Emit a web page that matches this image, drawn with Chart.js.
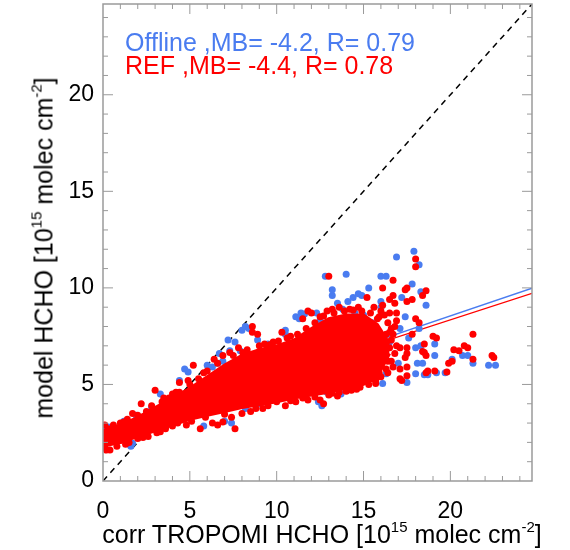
<!DOCTYPE html>
<html lang="en">
<head>
<meta charset="UTF-8">
<title>model HCHO vs corr TROPOMI HCHO</title>
<script src="https://cdn.jsdelivr.net/npm/chart.js"></script>
<style>
    body { margin: 0; background: #fff; }
    #wrap {
        position: relative;
        width: 570px;
        height: 550px;
        font-family: "Liberation Sans", Arial, Helvetica, sans-serif;
    }
    .txt { position: absolute; white-space: nowrap; line-height: 1; color: #000; }
    .txt sup { font-size: 0.6em; line-height: 0; position: relative; top: -0.1em; vertical-align: super; }
</style>
</head>
<body>
<div id="wrap">
    <canvas id="c" width="570" height="550"></canvas>
    <div class="txt" id="stat0" style="left:125px; top:30px; font-size:25px;"></div>
    <div class="txt" id="stat1" style="left:125px; top:53px; font-size:25px;"></div>
    <div class="txt" id="xtitle" style="left:322px; top:522px; font-size:25px; transform:translateX(-50%);">corr TROPOMI HCHO [10<sup>15</sup> molec cm<sup>-2</sup>]</div>
    <div class="txt" id="ytitle" style="left:44px; top:248px; font-size:25px; transform:translate(-50%,-50%) rotate(-90deg);">model HCHO [10<sup>15</sup> molec cm<sup>-2</sup>]</div>
</div>
<script>
    // axes
    const axisMax = 24.7;
    const tickValues = [0, 5, 10, 15, 20];

    // series info
    const seriesNames = ['Offline', 'REF'];
    const seriesColors = ['#4a7cf0', '#ff0000'];
    const meanBias = [-4.2, -4.4];
    const corrR = [0.79, 0.78];
    const fitIntercept = [2.45, 2.50];
    const fitSlope = [0.305, 0.292];

    // dense REF core (too many points to read one by one): envelope of the solid red mass
    const coreX     = [0,   1,   2,   3,   4,   5,   6,   7,   8,   9,    10,  11,  12,   13,  14,  15,  15.8, 16.5];
    const coreUpper = [2.6, 2.9, 3.3, 3.8, 4.3, 4.8, 5.4, 6.0, 6.5, 6.8,  7.0, 7.3, 7.9,  8.4, 8.6, 8.6, 8.1,  7.1];
    const coreLower = [1.8, 2.0, 2.3, 2.6, 2.9, 3.2, 3.4, 3.6, 3.8, 3.95, 4.1, 4.3, 4.45, 4.6, 4.8, 5.0, 5.4,  6.6];

    // Offline points visible around the cloud
    const offlinePts = [
        [0.0,2.7],[0.3,2.8],[0.4,2.3],[1.2,3.1],[1.6,1.8],[1.9,3.4],[2.8,3.8],[3.3,4.5],[3.7,4.2],[4.4,5.2],
        [4.7,5.8],[4.9,5.65],[6.0,6.0],[6.3,5.9],[6.7,6.6],[6.6,6.1],[6.9,6.2],[7.2,7.3],[7.3,6.75],[7.6,7.2],
        [7.9,6.75],[8.0,7.8],[8.2,8.0],[8.4,7.9],[8.9,7.3],[9.5,7.1],[10.5,7.6],[10.5,7.8],[11.1,8.5],[11.3,8.4],
        [11.4,8.7],[11.6,8.65],[12.3,8.7],[12.5,8.3],[12.8,10.6],[13.2,9.6],[13.2,9.9],[13.5,9.2],[13.8,8.9],[14.0,10.7],
        [14.1,9.3],[14.4,9.5],[14.5,8.7],[14.7,9.7],[14.9,9.6],[15.0,8.6],[15.3,10.0],[15.5,8.2],[16.0,10.6],[16.3,10.6],
        [16.0,9.3],[16.0,9.0],[16.9,11.6],[17.9,11.9],[18.2,11.2],[17.2,9.5],[17.8,10.2],[18.3,9.8],[18.6,9.1],[17.4,8.5],
        [18.2,7.9],[17.1,7.9],[16.5,7.2],[17.6,7.4],[18.0,6.9],[19.1,7.1],[18.3,7.0],[19.1,6.5],[17.0,6.1],[18.1,6.1],
        [18.4,6.1],[20.7,6.5],[21.0,6.5],[21.3,6.1],[22.2,6.0],[22.6,6.0],[20.1,6.3],[19.7,5.6],[18.5,5.5],[18.7,5.5],
        [19.2,5.6],[18.0,5.55],[16.3,5.55],[16.1,5.05],[17.5,5.1],[14.0,4.7],[12.9,4.6],[13.7,4.5],[12.4,4.1],[12.6,3.9],
        [9.0,4.0],[8.2,3.75],[7.4,3.0],[7.0,3.1],[5.8,2.85],[1.7,1.95]
    ];

    // REF points on the edges of the cloud and outliers
    const refPts = [
        [0.1,2.9],[0.6,2.9],[1.0,3.0],[1.4,3.2],[1.7,3.5],[2.2,4.0],[2.5,3.6],[3.0,4.7],[3.4,4.1],[3.8,4.3],
        [4.0,4.5],[4.4,4.6],[4.4,5.1],[4.9,5.2],[5.2,6.0],[5.5,5.3],[6.0,5.7],[6.4,6.3],[6.9,6.5],[7.3,6.65],
        [7.8,6.9],[8.05,6.65],[8.6,8.0],[8.6,7.7],[8.9,7.6],[9.3,7.1],[9.8,7.2],[10.3,7.7],[10.8,7.5],[11.5,8.4],
        [11.8,8.8],[12.0,8.7],[12.5,8.5],[12.9,8.8],[13.2,8.9],[13.0,10.6],[13.6,9.0],[14.2,8.9],[14.7,9.0],[15.2,9.5],
        [15.6,9.0],[16.0,8.8],[16.1,10.0],[16.5,9.4],[16.7,9.6],[16.7,10.4],[16.5,8.7],[16.9,8.7],[16.8,9.2],[16.6,7.9],
        [16.8,8.0],[17.4,9.9],[17.5,10.0],[17.5,9.3],[17.8,9.4],[18.0,11.5],[18.0,11.1],[18.4,9.6],[18.6,9.85],[18.0,8.4],
        [18.2,8.2],[17.8,7.6],[19.0,7.5],[19.2,7.4],[16.5,7.7],[16.9,7.0],[17.1,6.9],[17.5,6.9],[18.5,6.65],[18.6,6.5],
        [16.2,6.4],[16.6,6.2],[17.4,6.4],[17.5,6.6],[17.1,5.8],[17.5,5.9],[17.1,5.3],[17.2,5.2],[17.5,5.45],[18.6,5.6],
        [18.7,5.7],[15.7,5.05],[15.5,5.3],[18.5,7.1],[20.2,6.8],[20.8,7.0],[21.0,6.9],[21.3,7.6],[21.3,6.3],[22.4,6.5],
        [22.5,6.4],[19.8,5.65],[20.1,6.2],[19.9,6.1],[19.1,5.7],[18.4,6.7],[20.5,6.75],[15.9,6.0],[16.2,6.8],[16.0,7.3],
        [16.3,7.6],[15.8,8.4],[16.4,8.2],[16.6,7.3],[16.4,5.6],[16.8,6.6],
        [16.5,6.9],[16.7,7.6],[16.9,8.3],[16.2,8.6],[16.4,6.2],[16.7,5.9],[15.9,5.6],[16.1,9.1],
        [0.3,2.7],[1.2,3.05],[2.0,3.4],[2.8,3.9],[3.5,4.3],[4.2,4.6],[5.0,5.0],[5.8,5.6],[6.6,6.1],[7.5,6.5],
        [8.3,6.8],[9.0,7.0],[9.6,7.05],[10.1,7.25],[10.6,7.4],[11.2,7.6],[11.7,7.9],[12.2,8.2],[12.7,8.55],[13.3,8.7],
        [13.9,8.8],[14.4,8.85],[14.9,8.8],[15.4,8.7],[15.9,8.5],
        [0.1,1.75],[0.4,1.6],[0.8,1.8],[1.0,2.1],[1.5,2.0],[2.0,2.2],[2.6,2.3],[3.1,2.5],[3.6,2.7],[4.3,3.0],
        [4.8,2.9],[5.6,2.7],[6.3,3.0],[6.6,2.9],[6.9,3.05],[7.6,2.7],[7.4,3.3],[8.0,3.5],[8.5,3.6],[9.2,3.75],
        [10.0,4.1],[10.5,3.9],[11.1,4.1],[11.8,4.2],[12.5,4.2],[12.7,4.0],[13.2,4.55],[13.6,4.6],[13.5,4.4],[14.3,4.7],
        [14.8,4.85],[15.3,5.0],[16.0,5.4],[16.3,5.8],
        [0.2,1.6],[1.3,1.9],[2.3,2.25],[3.3,2.55],[4.0,2.85],[5.1,3.1],[5.9,3.3],[7.0,3.45],[8.8,3.75],[9.5,3.9],
        [10.8,4.15],[11.5,4.3],[12.2,4.35],[13.0,4.45],[14.0,4.65],[14.6,4.75],[15.7,5.2]
    ];

    // stats text
    for (let i = 0; i < seriesNames.length; i++) {
        const el = document.getElementById('stat' + i);
        el.textContent = seriesNames[i] + ' ,MB= ' + meanBias[i] + ', R= ' + corrR[i];
        el.style.color = seriesColors[i];
    }

    const toXY = arr => arr.map(p => ({x: p[0], y: p[1]}));
    const fitLine = i => [
        {x: 0, y: fitIntercept[i]},
        {x: axisMax, y: fitIntercept[i] + fitSlope[i] * axisMax}
    ];

    // box with inward major/minor ticks on all four sides
    const framePlugin = {
        id: 'frame',
        afterDatasetsDraw(chart) {
            const {ctx, chartArea: a, scales} = chart;
            ctx.save();
            ctx.strokeStyle = '#9a9a9a';
            ctx.lineWidth = 1.5;
            ctx.strokeRect(a.left, a.top, a.right - a.left, a.bottom - a.top);
            ctx.lineWidth = 1;
            ctx.beginPath();
            for (let v = 1; v < axisMax; v++) {
                const len = v % 5 === 0 ? 10 : 5;
                const px = scales.x.getPixelForValue(v);
                const py = scales.y.getPixelForValue(v);
                ctx.moveTo(px, a.bottom); ctx.lineTo(px, a.bottom - len);
                ctx.moveTo(px, a.top); ctx.lineTo(px, a.top + len);
                ctx.moveTo(a.left, py); ctx.lineTo(a.left + len, py);
                ctx.moveTo(a.right, py); ctx.lineTo(a.right - len, py);
            }
            ctx.stroke();
            ctx.restore();
        }
    };

    const tickFont = {family: '"Liberation Sans", Arial, Helvetica, sans-serif', size: 23};
    const noPad = s => { s.paddingTop = 0; s.paddingBottom = 0; s.paddingLeft = 0; s.paddingRight = 0; };

    new Chart(document.getElementById('c'), {
        type: 'scatter',
        data: {
            datasets: [
                {
                    label: seriesNames[1],
                    data: toXY(refPts),
                    backgroundColor: seriesColors[1],
                    pointRadius: 3.5,
                    pointBorderWidth: 0,
                    clip: 0,
                    order: 0
                },
                {
                    label: 'REF core top',
                    data: coreX.map((x, i) => ({x: x, y: coreUpper[i]})),
                    showLine: true,
                    fill: '+1',
                    backgroundColor: seriesColors[1],
                    borderColor: seriesColors[1],
                    borderWidth: 3,
                    pointRadius: 0,
                    clip: 0,
                    order: 1
                },
                {
                    label: 'REF core bottom',
                    data: coreX.map((x, i) => ({x: x, y: coreLower[i]})),
                    showLine: true,
                    fill: false,
                    borderColor: seriesColors[1],
                    borderWidth: 3,
                    pointRadius: 0,
                    clip: 0,
                    order: 1
                },
                {
                    label: seriesNames[0],
                    data: toXY(offlinePts),
                    backgroundColor: seriesColors[0],
                    pointRadius: 3.5,
                    pointBorderWidth: 0,
                    clip: 0,
                    order: 2
                },
                {
                    label: 'fit Offline',
                    data: fitLine(0),
                    showLine: true,
                    borderColor: seriesColors[0],
                    borderWidth: 1.3,
                    pointRadius: 0,
                    clip: 0,
                    order: 3
                },
                {
                    label: 'fit REF',
                    data: fitLine(1),
                    showLine: true,
                    borderColor: seriesColors[1],
                    borderWidth: 1.3,
                    pointRadius: 0,
                    clip: 0,
                    order: 3
                },
                {
                    label: '1:1',
                    data: [{x: 0, y: 0}, {x: axisMax, y: axisMax}],
                    showLine: true,
                    borderColor: '#000',
                    borderWidth: 1.5,
                    borderDash: [6, 5],
                    pointRadius: 0,
                    clip: 0,
                    order: 4
                }
            ]
        },
        options: {
            responsive: false,
            animation: false,
            events: [],
            layout: {padding: {top: 3, right: 38, left: 0, bottom: 0}},
            plugins: {legend: {display: false}, tooltip: {enabled: false}},
            scales: {
                x: {
                    type: 'linear',
                    min: 0,
                    max: axisMax,
                    grid: {display: false, drawTicks: false},
                    border: {display: false},
                    ticks: {
                        stepSize: 5,
                        includeBounds: false,
                        maxRotation: 0,
                        autoSkip: false,
                        padding: 17,
                        color: '#000',
                        font: tickFont,
                        callback: v => tickValues.includes(v) ? v : ''
                    },
                    afterFit: s => { s.height = 69; noPad(s); }
                },
                y: {
                    type: 'linear',
                    min: 0,
                    max: axisMax,
                    grid: {display: false, drawTicks: false},
                    border: {display: false},
                    ticks: {
                        stepSize: 5,
                        includeBounds: false,
                        autoSkip: false,
                        padding: 9,
                        color: '#000',
                        font: tickFont,
                        callback: v => tickValues.includes(v) ? v : ''
                    },
                    afterFit: s => { s.width = 103; noPad(s); }
                }
            }
        },
        plugins: [framePlugin]
    });
</script>
</body>
</html>
